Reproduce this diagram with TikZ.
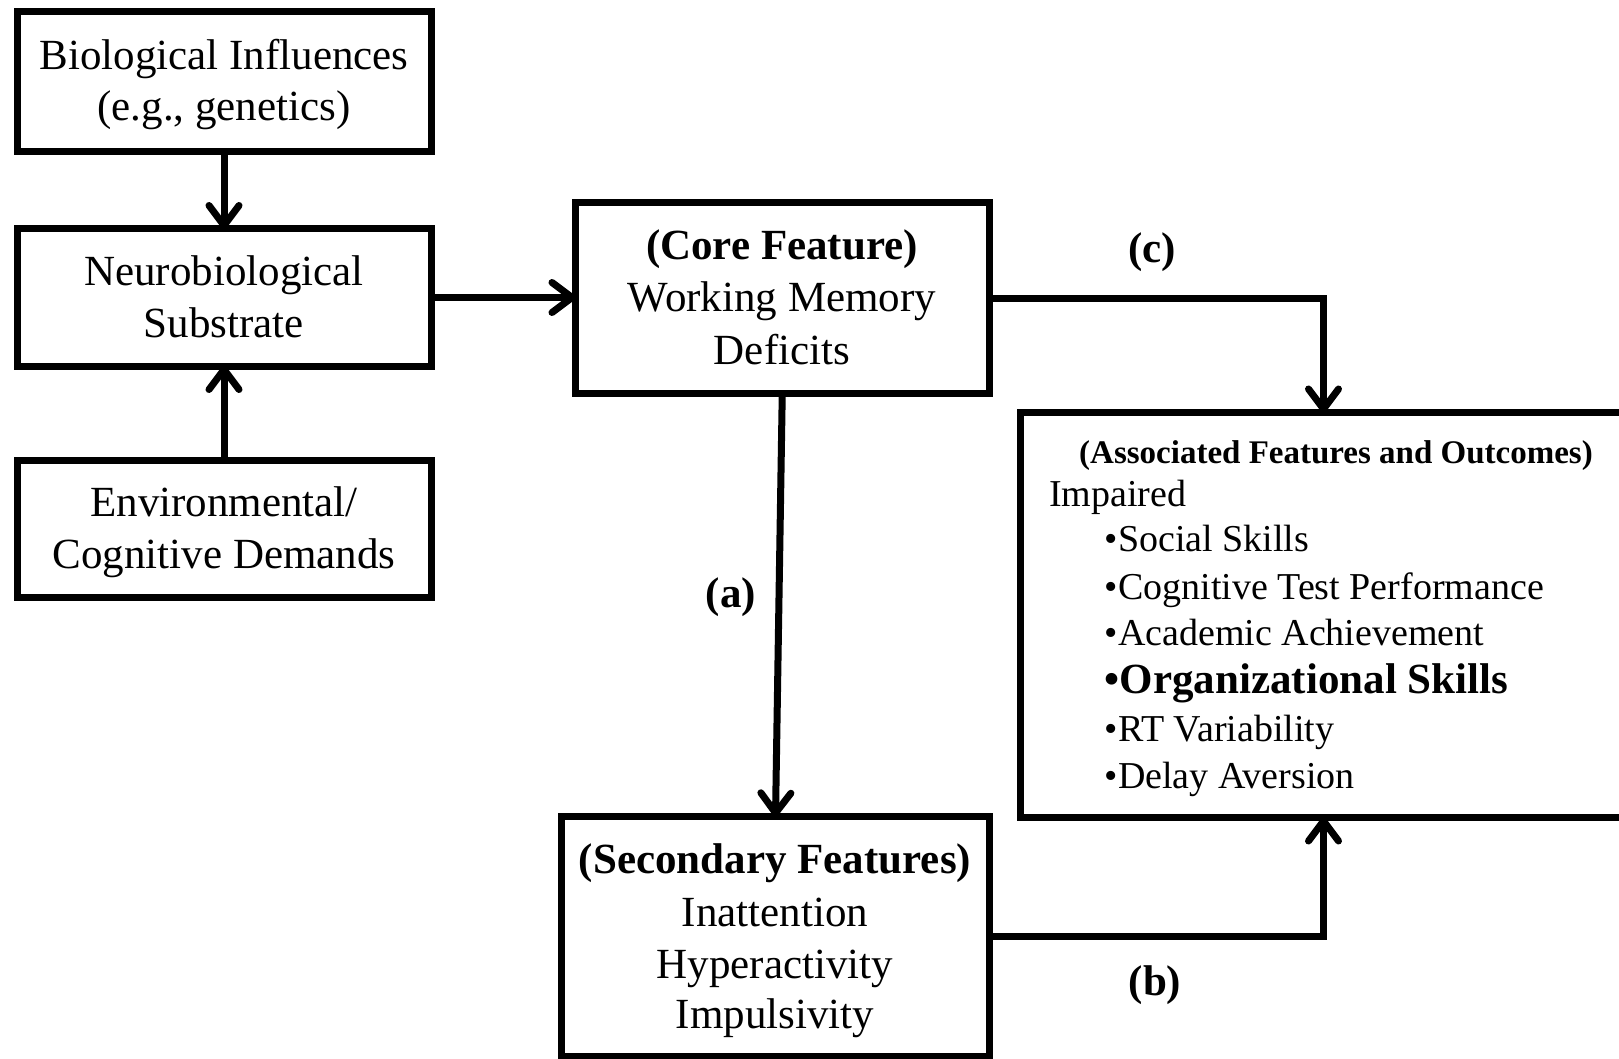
\documentclass[tikz,border=0pt]{standalone}
\usepackage{fontspec}
\setmainfont{Liberation Serif}
\usetikzlibrary{arrows.meta}
\begin{document}
\begin{tikzpicture}[x=1pt,y=-1pt,
  box/.style={draw, line width=7pt, inner sep=0pt, outer sep=0pt},
  txt/.style={inner sep=0pt, anchor=base, font=\fontsize{43}{52}\selectfont},
  btxt/.style={txt, font=\fontsize{43}{52}\selectfont\bfseries},
  hdr/.style={inner sep=0pt, anchor=base, font=\fontsize{33}{40}\selectfont\bfseries},
  item/.style={inner sep=0pt, anchor=base west, font=\fontsize{38}{46}\selectfont},
  bitem/.style={item, font=\fontsize{43}{52}\selectfont\bfseries},
  arr/.style={line width=7pt, line join=miter, -{Straight Barb[length=20pt,width=30pt,round]}}]
\useasboundingbox (0,0) rectangle (1619,1059);
\fill[white] (0,0) rectangle (1619,1059);
% boxes
\node[box, minimum width=414pt, minimum height=139.5pt] (bio) at (224,81.75) {};
\node[box, minimum width=414pt, minimum height=137pt] (neuro) at (224,297.5) {};
\node[box, minimum width=414pt, minimum height=136.5pt] (env) at (224,528.75) {};
\node[box, minimum width=413.5pt, minimum height=191pt] (core) at (782.25,298) {};
\node[box, minimum width=428pt, minimum height=239.5pt] (sec) at (775.5,936.25) {};
\node[box, minimum width=607pt, minimum height=405pt] (assoc) at (1323.5,615) {};
% texts
\node[txt] (bio1) at (224,70) {Biological Influences};
\node[txt] (bio2) at (224,120.5) {(e.g., genetics)};
\node[txt] (neu1) at (224,285) {Neurobiological};
\node[txt] (neu2) at (224,337) {Substrate};
\node[txt] (env1) at (224,516) {Environmental/};
\node[txt] (env2) at (224,568) {Cognitive Demands};
\node[btxt] (core1) at (782,260) {(Core Feature)};
\node[txt] (core2) at (782,311.7) {Working Memory};
\node[txt] (core3) at (782,364) {Deficits};
\node[btxt] (sec1) at (775,873) {(Secondary Features)};
\node[txt] (sec2) at (775,926.7) {Inattention};
\node[txt] (sec3) at (775,978) {Hyperactivity};
\node[txt] (sec4) at (775,1028) {Impulsivity};
\node[hdr] (as0) at (1336,463) {(Associated Features and Outcomes)};
\node[item] (as1) at (1049,506) {Impaired};
\node[item] (as2) at (1104.6,551.7) {•Social Skills};
\node[item] (as3) at (1104.6,599) {•Cognitive Test Performance};
\node[item] (as4) at (1104.6,645) {•Academic Achievement};
\node[bitem] (as5) at (1104.6,693) {•Organizational Skills};
\node[item] (as6) at (1104.6,741.7) {•RT Variability};
\node[item] (as7) at (1104.6,788) {•Delay Aversion};
% labels
\node[btxt] (la) at (731,607) {(a)};
\node[btxt] (lb) at (1155,995) {(b)};
\node[btxt] (lc) at (1152,263) {(c)};
% connectors
\draw[arr] (bio) -- (neuro);
\draw[arr] (env) -- (neuro);
\draw[arr] (neuro.east) -- (neuro.east -| core.west);
\draw[arr] (core.south) -- (sec.north);
\draw[arr] (core.east) -| (assoc.north);
\draw[arr] (sec.east) -| (assoc.south);
\end{tikzpicture}
\end{document}
